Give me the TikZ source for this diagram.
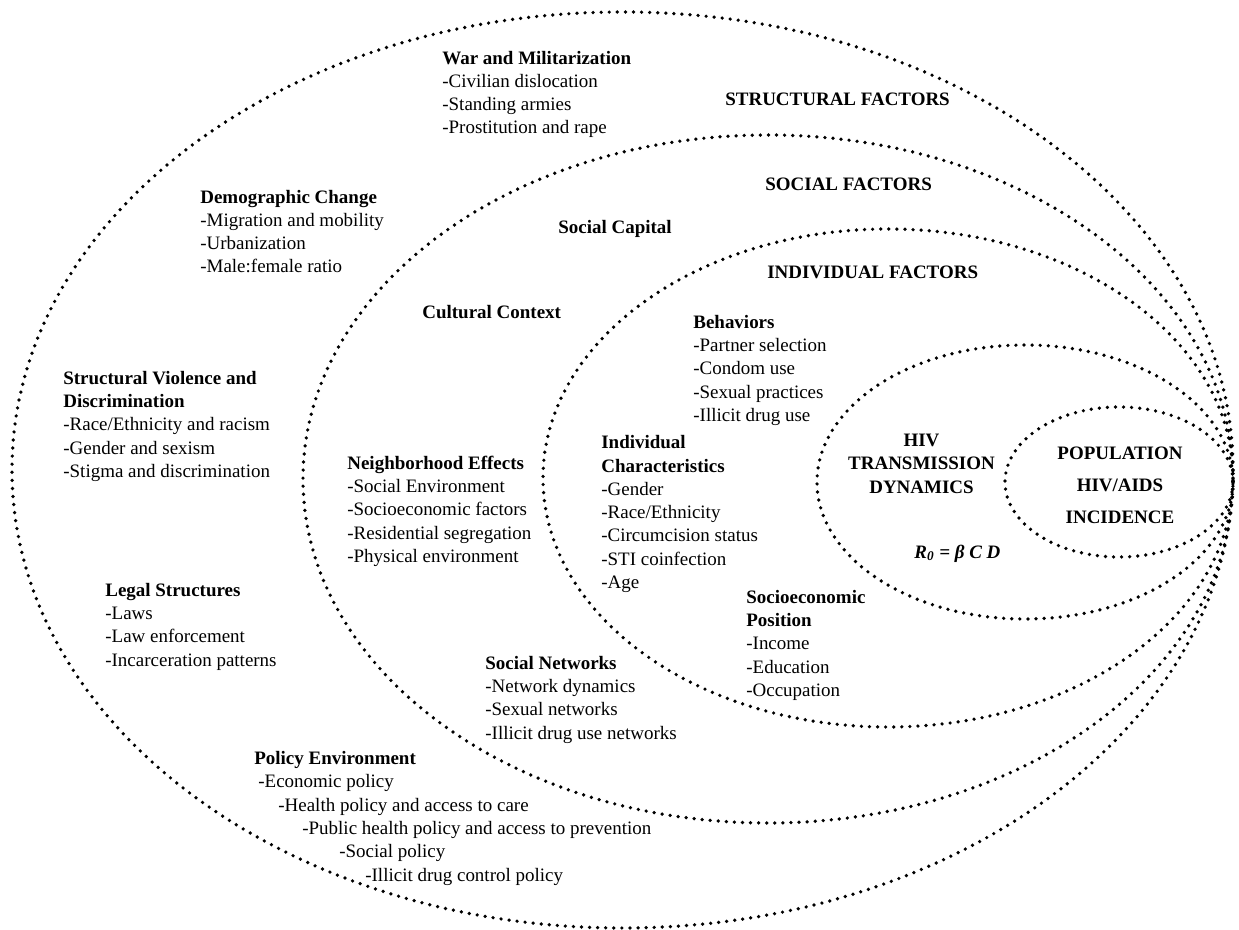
\documentclass[tikz,border=0pt]{standalone}
\usepackage{fontspec}
\setmainfont{Liberation Serif}

\begin{document}
\begin{tikzpicture}[
    dotline/.style={line width=2.1pt, dash pattern=on 0pt off 4.6pt, line cap=round},
    txt/.style={anchor=base west, align=left, inner sep=0pt, font=\fontsize{10.8}{13.25}\selectfont},
    head/.style={txt, font=\fontsize{10.8}{13.25}\selectfont\bfseries},
    core/.style={anchor=base, align=center, inner sep=0pt, font=\fontsize{10.8}{13.25}\selectfont\bfseries}
]
    \useasboundingbox (0,0) rectangle (24.78,-18.6);

    % Nested ellipses, all touching at the right
    \draw[dotline] (12.45,-9.40) ellipse [x radius=12.21, y radius=9.16];
    \draw[dotline] (15.36,-9.58) ellipse [x radius=9.30, y radius=6.88];
    \draw[dotline] (17.76,-9.56) ellipse [x radius=6.90, y radius=4.98];
    \draw[dotline] (20.50,-9.64) ellipse [x radius=4.16, y radius=2.74];
    \draw[dotline] (22.38,-9.64) ellipse [x radius=2.28, y radius=1.50];

    % Level titles
    \node[head] (structural) at (14.50,-2.12) {STRUCTURAL FACTORS};
    \node[head] (social) at (15.30,-3.82) {SOCIAL FACTORS};
    \node[head] (individual) at (15.34,-5.58) {INDIVIDUAL FACTORS};

    % Structural factors (multi-line nodes sit on the baseline of their last line)
    \node[txt] (war) at (8.84,-2.68) {\textbf{War and Militarization}\\-Civilian dislocation\\-Standing armies\\-Prostitution and rape};
    \node[txt] (demog) at (4.00,-5.46) {\textbf{Demographic Change}\\-Migration and mobility\\-Urbanization\\-Male:female ratio};
    \node[txt] (violence) at (1.26,-9.55) {\textbf{Structural Violence and}\\\textbf{Discrimination}\\-Race/Ethnicity and racism\\-Gender and sexism\\-Stigma and discrimination};
    \node[txt] (legal) at (2.10,-13.32) {\textbf{Legal Structures}\\-Laws\\-Law enforcement\\-Incarceration patterns};
    \node[txt] (policy) at (5.08,-17.62) {\textbf{Policy Environment}\\\hspace*{0.08cm}-Economic policy\\\hspace*{0.48cm}-Health policy and access to care\\\hspace*{0.96cm}-Public health policy and access to prevention\\\hspace*{1.70cm}-Social policy\\\hspace*{2.22cm}-Illicit drug control policy};

    % Social factors
    \node[head] (capital) at (11.16,-4.68) {Social Capital};
    \node[head] (culture) at (8.44,-6.38) {Cultural Context};
    \node[txt] (neighbour) at (6.94,-11.25) {\textbf{Neighborhood Effects}\\-Social Environment\\-Socioeconomic factors\\-Residential segregation\\-Physical environment};
    \node[txt] (networks) at (9.70,-14.78) {\textbf{Social Networks}\\-Network dynamics\\-Sexual networks\\-Illicit drug use networks};

    % Individual factors
    \node[txt] (behav) at (13.86,-8.43) {\textbf{Behaviors}\\-Partner selection\\-Condom use\\-Sexual practices\\-Illicit drug use};
    \node[txt] (charact) at (12.02,-11.77) {\textbf{Individual}\\\textbf{Characteristics}\\-Gender\\-Race/Ethnicity\\-Circumcision status\\-STI coinfection\\-Age};
    \node[txt] (sep) at (14.92,-13.93) {\textbf{Socioeconomic}\\\textbf{Position}\\-Income\\-Education\\-Occupation};

    % Transmission and incidence
    \node[core] (hiv) at (18.43,-9.86) {HIV\\TRANSMISSION\\DYNAMICS};
    \node[txt] (rzero) at (18.28,-11.16) {\bfseries\itshape R\textsubscript{0} = β C D};
    \node[core, font=\fontsize{10.8}{18.2}\selectfont\bfseries] (pop) at (22.40,-10.46) {POPULATION\\HIV/AIDS\\INCIDENCE};
\end{tikzpicture}
\end{document}
